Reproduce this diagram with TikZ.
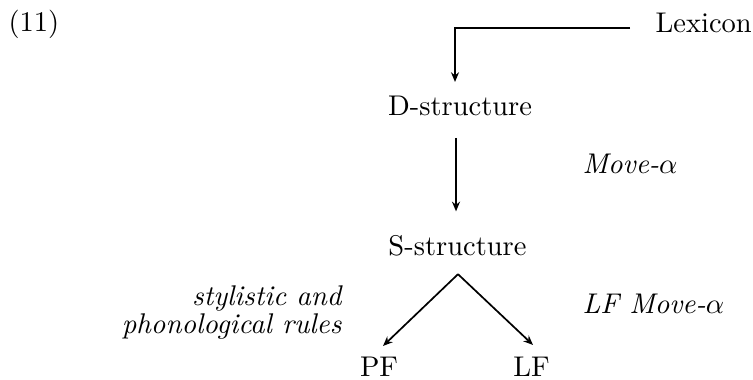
\documentclass[tikz,border=0pt]{standalone}
\usetikzlibrary{arrows.meta,calc}
\begin{document}
\begin{tikzpicture}[x=0.351pt,y=-0.351pt,
  lbl/.style={inner sep=0pt,font=\normalsize},
  rule/.style={inner sep=0pt,font=\itshape},
  flow/.style={line width=0.6pt,-{Stealth[length=3.4pt,width=2.8pt]}}]
\useasboundingbox (0,0) rectangle (753,379);
% labels
\node[lbl,anchor=base west] (num) at (8,32) {(11)};
\node[lbl,anchor=base west] (lex) at (655,33) {Lexicon};
\node[lbl,anchor=base] (ds) at (460,116) {D-structure};
\node[lbl,anchor=base] (ss) at (457.5,255) {S-structure};
\node[lbl,anchor=base] (pf) at (379,376) {PF};
\node[lbl,anchor=base] (lf) at (531.5,376) {LF};
\node[rule,anchor=base west] (mv) at (582,173) {Move-$\alpha$};
\node[rule,anchor=base west] (lfmv) at (582,313) {LF Move-$\alpha$};
\node[rule,anchor=base east] (sty) at (342,305) {stylistic and};
\node[rule,anchor=base east] (phon) at (342,333) {phonological rules};
% derivation arrows
\draw[flow] ($(lex.base west)+(-25,-5)$) -| ($(ds.north)+(-5,-14)$);
\draw[flow] ($(ds.south)+(-4,21)$) -- ($(ss.north)+(-1.5,-23)$);
\coordinate (top) at ($(ss.south)+(0.5,18)$);
\draw[flow] (top) -- ($(pf.north)+(4,-10)$);
\draw[flow] (top) -- ($(lf.north)+(1.5,-11)$);
\end{tikzpicture}
\end{document}
